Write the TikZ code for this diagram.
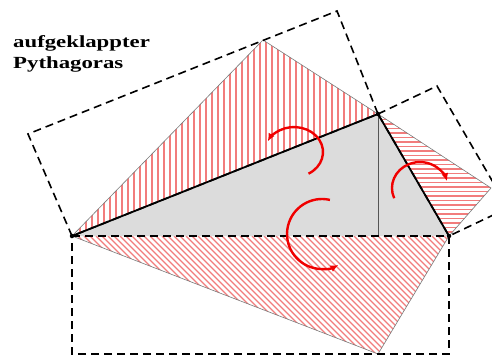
\documentclass[tikz,border=0pt]{standalone}
\usepackage{fontspec}
\setmainfont{Liberation Serif}
\usepackage{graphicx}
\usepackage{tikz}
\usetikzlibrary{arrows.meta}
\definecolor{hatchred}{HTML}{F27C7C}
\definecolor{turnred}{HTML}{F00000}
\definecolor{trigray}{HTML}{DCDCDC}
\definecolor{edgegray}{HTML}{7A7A7A}

\begin{document}
\begin{tikzpicture}[x=1pt, y=-1pt, >={Latex[length=8pt,width=7pt]},
  hatch/.style={draw=hatchred, line width=1.2pt},
  rim/.style={draw=edgegray, line width=0.6pt},
  frame/.style={draw=black, line width=1.6pt, dash pattern=on 8pt off 5pt},
  leg/.style={draw=black, line width=1.8pt},
  turn/.style={->, draw=turnred, line width=2.4pt},
  corner/.style={circle, fill=black, inner sep=0pt, minimum size=4.5pt},
  title/.style={font=\bfseries\fontsize{17}{20}\selectfont, inner sep=0pt,
    anchor=base west}]
\clip (0,0) rectangle (492,358);
\fill[white] (0,0) rectangle (492,358);
\coordinate (A) at (72,236);
\coordinate (B) at (449,236);
\coordinate (C) at (378,114);
\coordinate (H) at (378,236);
\coordinate (E) at (263,40);
\coordinate (P) at (491,188);
\coordinate (D) at (378,354);
\coordinate (G) at (28,134);
\coordinate (F) at (337,11);
\coordinate (K) at (437,86);
\coordinate (L) at (508,208);
\coordinate (A') at (72,354);
\coordinate (B') at (449,354);
\begin{scope}
  \clip (A) -- (E) -- (C) -- cycle;
  \foreach \x in {74,80,...,380} \draw[hatch] (\x,30) -- (\x,240);
\end{scope}
\begin{scope}
  \clip (C) -- (P) -- (B) -- cycle;
  \foreach \y in {115,119.5,...,238} \draw[hatch] (370,\y) -- (495,\y);
\end{scope}
\begin{scope}
  \clip (A) -- (B) -- (D) -- cycle;
  \foreach \x in {-60,-54,...,452} \draw[hatch] (\x,236) -- ({\x+125},361);
\end{scope}
\draw[rim] (A) -- (E) -- (C) -- (P) -- (B) -- (D) -- cycle;
\fill[trigray] (A) -- (B) -- (C) -- cycle;
\draw[edgegray!70!black, line width=0.7pt] (C) -- (H);
\draw[leg] (A) -- (C) -- (B);
\draw[frame] (A) -- (B) -- (B') -- (A') -- cycle;
\draw[frame] (A) -- (G) -- (F) -- (C) -- cycle;
\draw[frame] (C) -- (K) -- (L) -- (B) -- cycle;
\node[corner] (a) at (A) {};
\node[corner] (b) at (B) {};
\node[corner] (c) at (C) {};
\draw[turn] (308.5,173.7) arc[start angle=-60, end angle=155, x radius=29pt, y radius=25pt];
\draw[turn] (329.9,199.9) arc[start angle=77, end angle=298, radius=35pt];
\draw[turn] (394.2,198.2) arc[start angle=203, end angle=15, x radius=28pt, y radius=26pt];
\node[title] (title) at (13,47.7) {\scalebox{1.34}[1]{aufgeklappter}};
\node[title] (title2) at (13,68.3) {\scalebox{1.34}[1]{Pythagoras}};
\end{tikzpicture}
\end{document}
